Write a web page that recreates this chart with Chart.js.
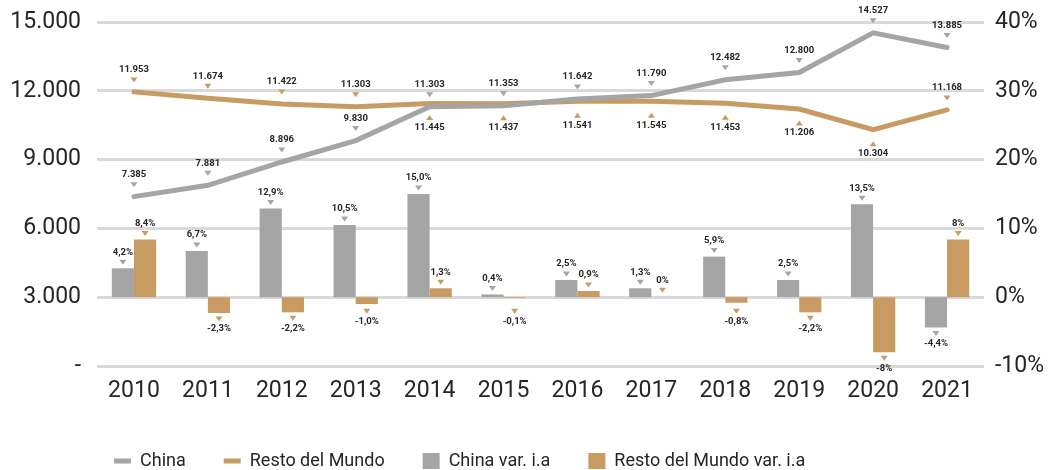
<!DOCTYPE html>
<html>
<head>
<meta charset="utf-8">
<script src="https://cdn.jsdelivr.net/npm/chart.js@4.4.1/dist/chart.umd.min.js"></script>
<style>
  html, body { margin: 0; padding: 0; background: #fff; }
  #wrap { width: 1051px; height: 470px; }
</style>
</head>
<body>
<div id="wrap"><canvas id="chart"></canvas></div>
<script>
const years = ["2010", "2011", "2012", "2013", "2014", "2015", "2016", "2017", "2018", "2019", "2020", "2021"];
const china = [7385, 7881, 8896, 9830, 11303, 11353, 11642, 11790, 12482, 12800, 14527, 13885];
const resto = [11953, 11674, 11422, 11303, 11445, 11437, 11541, 11545, 11453, 11206, 10304, 11168];
const chinaVar = [4.2, 6.7, 12.9, 10.5, 15.0, 0.4, 2.5, 1.3, 5.9, 2.5, 13.5, -4.4];
const restoVar = [8.4, -2.3, -2.2, -1.0, 1.3, -0.1, 0.9, 0, -0.8, -2.2, -8, 8.4];
const restoVarLabels = ["8,4%", "-2,3%", "-2,2%", "-1,0%", "1,3%", "-0,1%", "0,9%", "0%", "-0,8%", "-2,2%", "-8%", "8%"];
const restoLabelBelow = [false, false, false, false, true, true, true, true, true, true, true, false];
const leftTicks = [0, 3000, 6000, 9000, 12000, 15000];

const GRAY = "#a5a5a5";
const BROWN = "#c89b62";
const TEXT = "#262626";

function miles(v) {
  return String(v).replace(/\B(?=(\d{3})+(?!\d))/g, ".");
}
function pct(v) {
  return v.toFixed(1).replace(".", ",") + "%";
}

function triangle(ctx, x, y, up, color) {
  ctx.fillStyle = color;
  ctx.beginPath();
  if (up) {
    ctx.moveTo(x - 3.5, y + 2.5);
    ctx.lineTo(x + 3.5, y + 2.5);
    ctx.lineTo(x, y - 2.5);
  } else {
    ctx.moveTo(x - 3.5, y - 2.5);
    ctx.lineTo(x + 3.5, y - 2.5);
    ctx.lineTo(x, y + 2.5);
  }
  ctx.closePath();
  ctx.fill();
}

// etiquetas con flechita, como en el original
const valueLabels = {
  id: "valueLabels",
  afterDatasetsDraw(chart) {
    const ctx = chart.ctx;
    ctx.save();
    ctx.font = "bold 9.5px 'Liberation Sans Narrow', Roboto, sans-serif";
    ctx.textAlign = "center";
    ctx.textBaseline = "middle";
    const zeroY = chart.scales.y1.getPixelForValue(0);

    chart.data.datasets.forEach((ds, di) => {
      const meta = chart.getDatasetMeta(di);
      meta.data.forEach((el, i) => {
        const v = ds.data[i];
        const x = el.x;
        let triY, txtY, up = false, text;
        if (ds.type === "line") {
          text = miles(v);
          const below = ds.labelBelow && ds.labelBelow[i];
          if (below) {
            up = true;
            triY = el.y + 14;
            txtY = el.y + 24;
          } else {
            triY = el.y - 12;
            txtY = el.y - 22;
          }
        } else {
          text = ds.labelText ? ds.labelText[i] : pct(v);
          if (v >= 0) {
            triY = Math.min(el.y, zeroY - 1) - 6;
            txtY = triY - 10;
          } else {
            triY = Math.max(el.y + 6, zeroY + 14);
            txtY = triY + 10;
          }
        }
        triangle(ctx, x, triY, up, ds.borderColor);
        ctx.fillStyle = TEXT;
        ctx.fillText(text, x, txtY);
      });
    });
    ctx.restore();
  }
};

// la leyenda va corrida a la izquierda y un poco mas abajo
const legendShift = {
  id: "legendShift",
  afterLayout(chart) {
    const lg = chart.legend;
    if (!lg) return;
    lg.left += 76;
    lg.right += 76;
    lg.top += 10;
    lg.bottom += 10;
  }
};

new Chart(document.getElementById("chart"), {
  data: {
    labels: years,
    datasets: [
      {
        type: "line",
        label: "China",
        data: china,
        yAxisID: "y",
        borderColor: GRAY,
        backgroundColor: GRAY,
        borderWidth: 5,
        borderCapStyle: "round",
        pointRadius: 0,
        tension: 0,
        pointStyle: "line",
      },
      {
        type: "line",
        label: "Resto del Mundo",
        data: resto,
        yAxisID: "y",
        borderColor: BROWN,
        backgroundColor: BROWN,
        borderWidth: 5,
        borderCapStyle: "round",
        pointRadius: 0,
        tension: 0,
        pointStyle: "line",
        labelBelow: restoLabelBelow,
      },
      {
        type: "bar",
        label: "China var. i.a",
        data: chinaVar,
        yAxisID: "y1",
        backgroundColor: GRAY,
        borderColor: GRAY,
        borderWidth: 0,
        categoryPercentage: 0.6,
        barPercentage: 1.0,
        pointStyle: "rect",
      },
      {
        type: "bar",
        label: "Resto del Mundo var. i.a",
        data: restoVar,
        yAxisID: "y1",
        backgroundColor: BROWN,
        borderColor: BROWN,
        borderWidth: 0,
        categoryPercentage: 0.6,
        barPercentage: 1.0,
        pointStyle: "rect",
        labelText: restoVarLabels,
      },
    ],
  },
  options: {
    responsive: true,
    maintainAspectRatio: false,
    animation: false,
    layout: { padding: { top: 22, left: 0, right: 0, bottom: 0 } },
    plugins: {
      tooltip: { enabled: false },
      legend: {
        position: "bottom",
        align: "start",
        labels: {
          usePointStyle: true,
          pointStyleWidth: 17,
          boxHeight: 16,
          padding: 38,
          color: TEXT,
          font: { family: "Roboto", size: 18 },
        },
      },
    },
    scales: {
      x: {
        grid: { display: false },
        border: { display: false },
        ticks: {
          color: TEXT,
          padding: 3,
          font: { family: "Roboto", size: 23 },
        },
        afterFit(scale) { scale.height = 38; },
      },
      y: {
        position: "left",
        min: 0,
        max: 15000,
        afterBuildTicks(scale) { scale.ticks = leftTicks.map(v => ({ value: v })); },
        grid: { color: "#d9d9d9", lineWidth: 3, drawTicks: false },
        border: { display: false },
        ticks: {
          color: TEXT,
          padding: 16,
          font: { family: "Roboto", size: 23, lineHeight: 0.5 },
          callback: v => (v === 0 ? "-" : miles(v)),
        },
        afterFit(scale) { scale.width = 97; },
      },
      y1: {
        position: "right",
        min: -10,
        max: 40,
        grid: { display: false, drawTicks: false },
        border: { display: false },
        ticks: {
          stepSize: 10,
          color: TEXT,
          padding: 11,
          font: { family: "Roboto", size: 23, lineHeight: 0.5 },
          callback: v => v + "%",
        },
        afterFit(scale) { scale.width = 67; },
      },
    },
  },
  plugins: [valueLabels, legendShift],
});
</script>
</body>
</html>
